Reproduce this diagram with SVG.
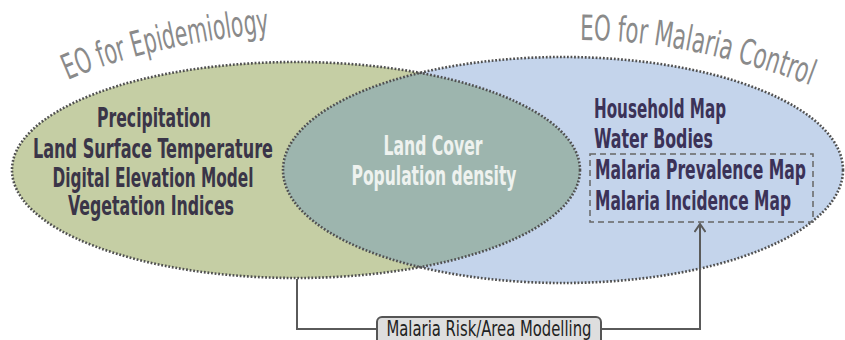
<svg xmlns="http://www.w3.org/2000/svg" width="845" height="340" viewBox="0 0 845 340">
  <style>
    .outline { fill: none; stroke: #505050; stroke-width: 2.6; stroke-dasharray: 1.8 1.8; }
    .item { font-family: "DejaVu Sans Condensed", "DejaVu Sans", sans-serif; font-weight: bold; font-size: 26px; }
    .left-item { fill: #3a3548; text-anchor: middle; }
    .right-item { fill: #3b3258; }
    .shared-item { fill: #eef2ef; text-anchor: middle; }
    .title { font-family: "DejaVu Sans Condensed", "DejaVu Sans", sans-serif; font-size: 35px; fill: #8a8a8a; }
    .link { fill: none; stroke: #5a5a5a; stroke-width: 2; }
    .label { font-family: "DejaVu Sans Condensed", "DejaVu Sans", sans-serif; font-size: 21px; fill: #222; text-anchor: middle; }
  </style>
  <defs>
    <clipPath id="leftClip">
      <ellipse cx="296" cy="170" rx="284" ry="108"/>
    </clipPath>
    <marker id="chevron" viewBox="0 0 12 12" refX="10" refY="6" markerWidth="12" markerHeight="12" markerUnits="userSpaceOnUse" orient="auto">
      <path d="M2,0.5 L10,6 L2,11.5" fill="none" stroke="#5a5a5a" stroke-width="2"/>
    </marker>
    <path id="arcLeft" d="M68,80 Q150,44 285,31"/>
    <path id="arcRight" d="M580,40 Q690,40 812,86"/>
  </defs>

  <!-- set fills -->
  <g id="epidemiology">
    <ellipse cx="296" cy="170" rx="284" ry="108" fill="#c5cea4"/>
  </g>
  <g id="malaria-control">
    <ellipse cx="563" cy="170" rx="280" ry="113" fill="#c4d4eb"/>
  </g>
  <g id="overlap">
    <ellipse cx="563" cy="170" rx="280" ry="113" fill="#9db5ae" clip-path="url(#leftClip)"/>
  </g>

  <!-- dotted outlines over both sets -->
  <ellipse class="outline" cx="296" cy="170" rx="284" ry="108"/>
  <ellipse class="outline" cx="563" cy="170" rx="280" ry="113"/>

  <!-- set titles -->
  <text class="title"><textPath href="#arcLeft" textLength="208" lengthAdjust="spacingAndGlyphs">EO for Epidemiology</textPath></text>
  <text class="title"><textPath href="#arcRight" textLength="236" lengthAdjust="spacingAndGlyphs">EO for Malaria Control</textPath></text>

  <!-- left-only items -->
  <g id="epidemiology-items" class="item left-item">
    <text x="154" y="127" textLength="114" lengthAdjust="spacingAndGlyphs">Precipitation</text>
    <text x="153" y="158" textLength="240" lengthAdjust="spacingAndGlyphs">Land Surface Temperature</text>
    <text x="153" y="187" textLength="201" lengthAdjust="spacingAndGlyphs">Digital Elevation Model</text>
    <text x="151" y="215" textLength="166" lengthAdjust="spacingAndGlyphs">Vegetation Indices</text>
  </g>

  <!-- shared items -->
  <g id="shared-items" class="item shared-item">
    <text x="433" y="155" textLength="99" lengthAdjust="spacingAndGlyphs">Land Cover</text>
    <text x="434" y="185" textLength="165" lengthAdjust="spacingAndGlyphs">Population density</text>
  </g>

  <!-- right-only items -->
  <g id="malaria-items" class="item right-item">
    <text x="594" y="118" textLength="132" lengthAdjust="spacingAndGlyphs">Household Map</text>
    <text x="594" y="148" textLength="119" lengthAdjust="spacingAndGlyphs">Water Bodies</text>
    <text x="595" y="179" textLength="211" lengthAdjust="spacingAndGlyphs">Malaria Prevalence Map</text>
    <text x="595" y="210" textLength="196" lengthAdjust="spacingAndGlyphs">Malaria Incidence Map</text>
  </g>

  <!-- grouped output maps -->
  <g id="map-outputs">
    <rect x="590" y="154" width="223" height="68" fill="none" stroke="#666" stroke-width="1.5" stroke-dasharray="6 4"/>
  </g>

  <!-- connector from the epidemiology set through modelling to the maps -->
  <g id="connectors">
    <path class="link" d="M297,279 V329 H700 V224" marker-end="url(#chevron)"/>
  </g>

  <!-- modelling step -->
  <g id="risk-modelling">
    <rect x="377" y="317" width="224" height="32" rx="5" fill="#dedede" stroke="#555" stroke-width="2"/>
    <text class="label" x="489" y="336" textLength="205" lengthAdjust="spacingAndGlyphs">Malaria Risk/Area Modelling</text>
  </g>
</svg>
